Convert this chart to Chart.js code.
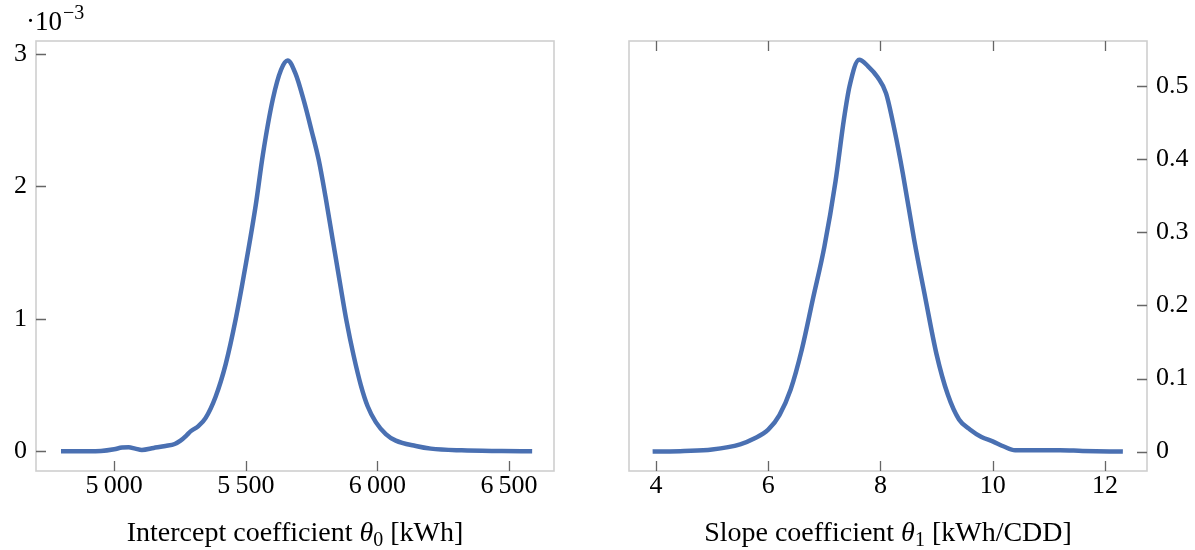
<!DOCTYPE html>
<html><head><meta charset="utf-8">
<script src="https://cdn.jsdelivr.net/npm/chart.js@4/dist/chart.umd.min.js"></script>
<style>
html,body{margin:0;padding:0;background:#fff;}
#wrap{position:relative;width:1195px;height:550px;overflow:hidden;}
canvas{position:absolute;top:0;}
#c1{left:0;} #c2{left:597px;}
</style></head><body>
<div id="wrap"><canvas id="c1" width="597" height="550"></canvas><canvas id="c2" width="598" height="550"></canvas></div>
<script>
// Intercept coefficient theta0 [kWh] (density in units of 1e-3)
const interceptX = [4798, 4850, 4900, 4950, 5000, 5030, 5055, 5080, 5105, 5150, 5195, 5230, 5252, 5275, 5290, 5320, 5347, 5385, 5424, 5462, 5500, 5538, 5565, 5603, 5634, 5659, 5689, 5720, 5750, 5777, 5803, 5830, 5857, 5883, 5910, 5937, 5963, 5994, 6032, 6070, 6146, 6203, 6320, 6473, 6588];
const interceptDensity = [0, 0, 0, 0.002, 0.015, 0.028, 0.03, 0.02, 0.01, 0.025, 0.04, 0.055, 0.08, 0.12, 0.15, 0.19, 0.25, 0.41, 0.66, 1.0, 1.41, 1.86, 2.24, 2.66, 2.88, 2.95, 2.85, 2.65, 2.42, 2.2, 1.92, 1.6, 1.28, 0.98, 0.72, 0.5, 0.34, 0.22, 0.13, 0.08, 0.04, 0.02, 0.007, 0.002, 0];
// Slope coefficient theta1 [kWh/CDD]
const slopeX = [3.94, 4.5, 5.0, 5.5, 5.75, 6.0, 6.2, 6.4, 6.6, 6.8, 7.0, 7.2, 7.35, 7.45, 7.62, 7.78, 7.95, 8.1, 8.25, 8.4, 8.6, 8.8, 9.0, 9.2, 9.4, 9.6, 9.8, 10.0, 10.2, 10.4, 10.8, 11.2, 11.6, 12.32];
const slopeDensity = [0, 0.001, 0.003, 0.01, 0.018, 0.03, 0.05, 0.085, 0.14, 0.21, 0.28, 0.37, 0.455, 0.5, 0.536, 0.527, 0.512, 0.49, 0.44, 0.38, 0.29, 0.21, 0.133, 0.078, 0.044, 0.03, 0.02, 0.014, 0.007, 0.002, 0.002, 0.002, 0.001, 0];

const interceptTicks = [5000, 5500, 6000, 6500];
const interceptTickLabels = ['5\u2009000', '5\u2009500', '6\u2009000', '6\u2009500'];
const interceptYTicks = [0, 1, 2, 3];
const interceptYTickLabels = ['0', '1', '2', '3'];
const slopeTicks = [4, 6, 8, 10, 12];
const slopeTickLabels = ['4', '6', '8', '10', '12'];
const slopeYTicks = [0, 0.1, 0.2, 0.3, 0.4, 0.5];
const slopeYTickLabels = ['0', '0.1', '0.2', '0.3', '0.4', '0.5'];

const FONT = "'Liberation Serif', 'DejaVu Serif', serif";
const LINE = '#4A70B2';

function framePlugin(sides) {
  return {
    id: 'frame',
    beforeDatasetsDraw(chart) {
      const a = chart.chartArea, ctx = chart.ctx;
      ctx.save();
      ctx.strokeStyle = '#cfcfcf';
      ctx.lineWidth = 1.6;
      ctx.strokeRect(a.left, a.top, a.right - a.left, a.bottom - a.top);
      ctx.strokeStyle = '#666666';
      ctx.lineWidth = 1.3;
      const xs = chart.scales.x, ys = chart.scales.y, L = 10;
      ctx.beginPath();
      xs.ticks.forEach(t => {
        const p = Math.round(xs.getPixelForValue(t.value)) + 0.5;
        if (sides.includes('bottom')) { ctx.moveTo(p, a.bottom); ctx.lineTo(p, a.bottom - L); }
        if (sides.includes('top')) { ctx.moveTo(p, a.top); ctx.lineTo(p, a.top + L); }
      });
      ys.ticks.forEach(t => {
        const p = Math.round(ys.getPixelForValue(t.value)) + 0.5;
        if (sides.includes('left')) { ctx.moveTo(a.left, p); ctx.lineTo(a.left + L, p); }
        if (sides.includes('right')) { ctx.moveTo(a.right, p); ctx.lineTo(a.right - L, p); }
      });
      ctx.stroke();
      ctx.restore();
    }
  };
}

function titlePlugin(pieces, extra) {
  return {
    id: 'axtitle',
    afterDraw(chart) {
      const a = chart.chartArea, ctx = chart.ctx;
      ctx.save();
      ctx.fillStyle = '#000';
      ctx.textBaseline = 'alphabetic';
      let w = 0;
      pieces.forEach(p => { ctx.font = p.f; p.w = ctx.measureText(p.t).width; w += p.w; });
      let x = (a.left + a.right) / 2 - w / 2;
      const y = 541;
      pieces.forEach(p => { ctx.font = p.f; ctx.fillText(p.t, x, y + (p.dy || 0)); x += p.w; });
      if (extra) extra(ctx, a);
      ctx.restore();
    }
  };
}

function tickFont() { return { family: FONT, size: 26 }; }

function makeChart(id, xs, ys, opts) {
  return new Chart(document.getElementById(id), {
    type: 'line',
    data: {
      datasets: [{
        data: xs.map((x, i) => ({ x: x, y: ys[i] })),
        borderColor: LINE, borderWidth: 4.5, pointRadius: 0,
        cubicInterpolationMode: 'monotone', fill: false
      }]
    },
    options: {
      responsive: false, animation: false,
      layout: { padding: opts.padding },
      plugins: { legend: { display: false }, tooltip: { enabled: false } },
      scales: {
        x: {
          type: 'linear', min: opts.xmin, max: opts.xmax,
          afterBuildTicks: s => { s.ticks = opts.xt.map(v => ({ value: v })); },
          afterFit: s => { s.height = 79; },
          grid: { display: false, drawTicks: false }, border: { display: false },
          ticks: { font: tickFont(), color: '#000', padding: 0, maxRotation: 0, autoSkip: false,
            callback: v => opts.xl[opts.xt.indexOf(v)] }
        },
        y: {
          type: 'linear', position: opts.ypos, min: opts.ymin, max: opts.ymax,
          afterBuildTicks: s => { s.ticks = opts.yt.map(v => ({ value: v })); },
          afterFit: s => { s.width = opts.yw; },
          grid: { display: false, drawTicks: false }, border: { display: false },
          ticks: { font: tickFont(), color: '#000', padding: 9, autoSkip: false,
            callback: v => opts.yl[opts.yt.indexOf(v)] }
        }
      }
    },
    plugins: [framePlugin(opts.sides), titlePlugin(opts.title, opts.extra)]
  });
}

makeChart('c1', interceptX, interceptDensity, {
  padding: { top: 41, right: 43, left: 0, bottom: 0 },
  xmin: 4703, xmax: 6671, ymin: -0.149, ymax: 3.097,
  xt: interceptTicks, xl: interceptTickLabels, yt: interceptYTicks, yl: interceptYTickLabels,
  ypos: 'left', yw: 36, sides: ['bottom', 'left'],
  title: [
    { t: 'Intercept coefficient ', f: `28px ${FONT}` },
    { t: 'θ', f: `italic 28px ${FONT}` },
    { t: '0', f: `20px ${FONT}`, dy: 5 },
    { t: ' [kWh]', f: `28px ${FONT}` }
  ],
  extra: (ctx, a) => {
    ctx.font = `27px ${FONT}`;
    ctx.fillText('·10', 26, 30);
    const w = ctx.measureText('·10').width;
    ctx.font = `20px ${FONT}`;
    ctx.fillText('\u22123', 26 + w + 1, 19);
  }
});

makeChart('c2', slopeX, slopeDensity, {
  padding: { top: 41, right: 0, left: 32, bottom: 0 },
  xmin: 3.519, xmax: 12.75, ymin: -0.0265, ymax: 0.5616,
  xt: slopeTicks, xl: slopeTickLabels, yt: slopeYTicks, yl: slopeYTickLabels,
  ypos: 'right', yw: 48, sides: ['bottom', 'top', 'right'],
  title: [
    { t: 'Slope coefficient ', f: `28px ${FONT}` },
    { t: 'θ', f: `italic 28px ${FONT}` },
    { t: '1', f: `20px ${FONT}`, dy: 5 },
    { t: ' [kWh/CDD]', f: `28px ${FONT}` }
  ]
});
</script>
</body></html>
